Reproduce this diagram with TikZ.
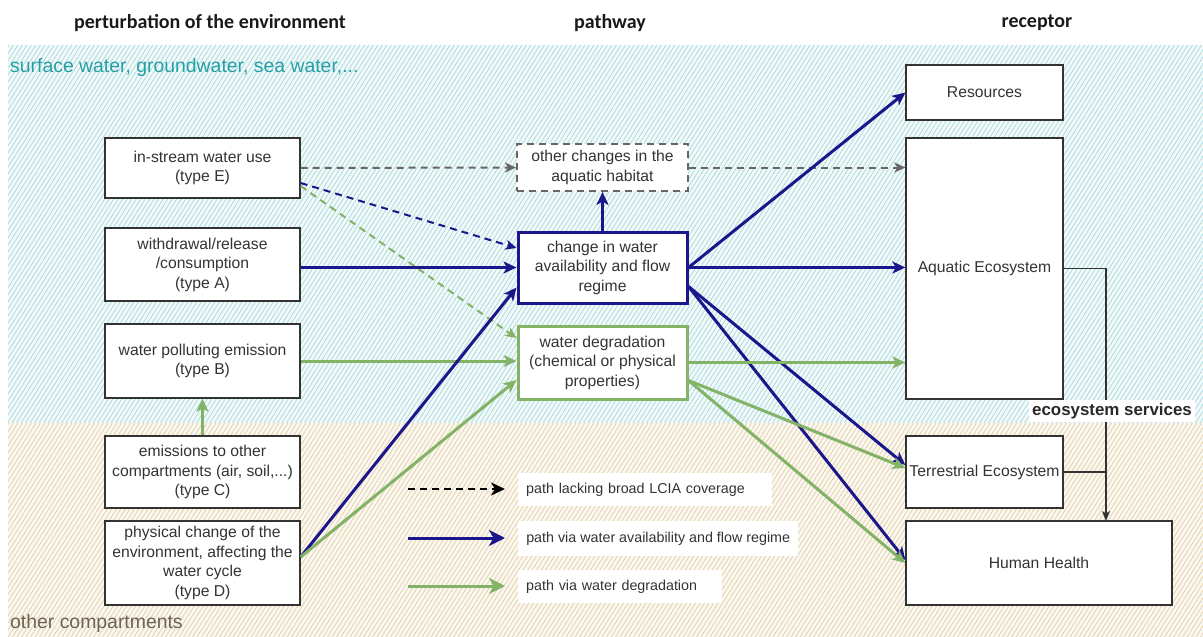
\documentclass[tikz,border=0pt]{standalone}
\usepackage{fontspec}
\setmainfont{Liberation Sans}
\newfontfamily\headfont{Carlito}
\usetikzlibrary{arrows.meta,calc}

\definecolor{navy}{RGB}{28,22,140}
\definecolor{leaf}{RGB}{130,179,102}
\definecolor{ink}{RGB}{51,51,51}
\definecolor{dashgray}{RGB}{102,102,102}
\definecolor{watertext}{RGB}{38,160,168}
\definecolor{soiltext}{RGB}{110,100,85}
\definecolor{hatchC}{RGB}{180,221,225}
\definecolor{hatchCbg}{RGB}{243,250,250}
\definecolor{hatchB}{RGB}{228,212,178}
\definecolor{hatchBbg}{RGB}{251,248,241}

\begin{document}
\begin{tikzpicture}[x=1pt,y=-1pt,
  boxfont/.style={font=\fontsize{15.7}{19.5}\selectfont},
  box/.style={boxfont, draw=ink, line width=1.3pt, fill=white, text=ink,
    align=center, inner sep=0pt},
  bluebox/.style={box, draw=navy, line width=3pt},
  greenbox/.style={box, draw=leaf, line width=3pt},
  graybox/.style={box, draw=dashgray, line width=2pt, dash pattern=on 7pt off 5pt},
  head/.style={font=\headfont\bfseries\fontsize{20}{24}\selectfont, text=black!90, inner sep=0pt},
  zone/.style={font=\fontsize{19.4}{23}\selectfont, inner sep=0pt, anchor=west},
  legtext/.style={font=\fontsize{14.3}{17}\selectfont, text=ink, fill=white,
    align=left, inner xsep=8pt, inner ysep=0pt, anchor=west},
  tipB/.style={-{Stealth[length=13pt,width=12pt,inset=3.5pt]}},
  tipG/.style={-{Stealth[length=11pt,width=10pt,inset=3pt]}},
  blueflow/.style={draw=navy, line width=3pt, tipB},
  greenflow/.style={draw=leaf, line width=3pt, tipB},
  bluedash/.style={draw=navy, line width=2pt, dash pattern=on 7pt off 5pt, tipG},
  greendash/.style={draw=leaf, line width=2pt, dash pattern=on 7pt off 5pt, tipG},
  graydash/.style={draw=dashgray, line width=2pt, dash pattern=on 7pt off 5pt, tipG},
  svc/.style={draw=ink, line width=1.3pt},
]
\useasboundingbox (0,0) rectangle (1203,637);

% hatched zones: water bodies (top) and other compartments (bottom)
\begin{scope}
  \clip (8,45) rectangle (1203,423);
  \fill[hatchCbg] (8,45) rectangle (1203,423);
  \foreach \k in {-240,-235.5,...,1203}
    \draw[hatchC, line width=0.9pt] (\k,423) -- ++(240,-378);
\end{scope}
\begin{scope}
  \clip (8,423) rectangle (1203,637);
  \fill[hatchBbg] (8,423) rectangle (1203,637);
  \foreach \k in {-136,-131.5,...,1203}
    \draw[hatchB, line width=0.9pt] (\k,637) -- ++(136,-214);
\end{scope}

% column headers
\node[head] (h1) at (210,23) {perturbation of the environment};
\node[head] (h2) at (610,23) {pathway};
\node[head] (h3) at (1037,23) {receptor};

% zone labels
\node[zone, text=watertext] (zw) at (10,67) {surface water, groundwater, sea water,...};
\node[zone, text=soiltext] (zs) at (10,623) {other compartments};

% perturbations
\node[box, minimum width=195, minimum height=60] (ins) at (202.5,168) {in-stream water use\\(type E)};
\node[box, minimum width=195, minimum height=73] (wdr) at (202.5,264.5) {withdrawal/release\\/consumption\\(type A)};
\node[box, minimum width=195, minimum height=74] (pol) at (202.5,361) {water polluting emission\\(type B)};
\node[box, minimum width=195, minimum height=72] (emi) at (202.5,472) {emissions to other\\compartments (air, soil,...)\\(type C)};
\node[box, minimum width=195, minimum height=84] (phy) at (202.5,563) {physical change of the\\environment, affecting the\\water cycle\\(type D)};

% pathways
\node[graybox, minimum width=171, minimum height=47] (oth) at (602.5,167.5) {other changes in the\\aquatic habitat};
\node[bluebox, minimum width=169, minimum height=71] (chg) at (602.5,267.5) {change in water\\availability and flow\\regime};
\node[greenbox, minimum width=169, minimum height=73] (deg) at (602.5,362.5) {water degradation\\(chemical or physical\\properties)};

% receptors
\node[box, minimum width=157, minimum height=55] (res) at (984.5,92.5) {Resources};
\node[box, minimum width=157, minimum height=261] (aqu) at (984.5,268.5) {Aquatic Ecosystem};
\node[box, minimum width=157, minimum height=72] (ter) at (984.5,472) {Terrestrial Ecosystem};
\node[box, minimum width=266, minimum height=84] (hh) at (1039,563) {Human Health};

% paths lacking broad coverage
\draw[graydash] (ins.east) -- (oth.west);
\draw[graydash] (oth.east) -- (aqu.west |- oth.east);
\draw[bluedash] ($(ins.east)+(0,15)$) -- ($(chg.west)+(0,-19.5)$);
\draw[greendash] ($(ins.east)+(0,18)$) -- ($(deg.west)+(0,-24.5)$);

% perturbation to pathway
\draw[blueflow] (wdr.east |- chg.west) -- (chg.west);
\draw[greenflow] (pol.east) -- (pol.east -| deg.west);
\draw[greenflow] (emi.north) -- (pol.south);
\draw[blueflow] ($(phy.east)+(0,-6)$) -- ($(chg.west)+(0,20)$);
\draw[greenflow] ($(phy.east)+(0,-6)$) -- ($(deg.west)+(0,17.5)$);
\draw[blueflow] (chg.north) -- (oth.south);

% pathway to receptor
\draw[blueflow] (chg.east) -- (res.west);
\draw[blueflow] (chg.east) -- (aqu.west |- chg.east);
\draw[blueflow] ($(chg.east)+(0,19)$) -- ($(ter.west)+(0,-7)$);
\draw[blueflow] ($(chg.east)+(0,19)$) -- ($(hh.west)+(0,-3)$);
\draw[greenflow] (deg.east) -- (aqu.west |- deg.east);
\draw[greenflow] ($(deg.east)+(0,18)$) -- ($(ter.west)+(0,-4)$);
\draw[greenflow] ($(deg.east)+(0,18)$) -- ($(hh.west)+(0,0)$);

% ecosystem services
\coordinate (hhin) at (1106,521);
\draw[svc, -{Stealth[length=10pt,width=8pt,inset=2.5pt]}] (aqu.east) -| (hhin);
\draw[svc] (ter.east) -- (ter.east -| hhin);
\node[font=\bfseries\fontsize{16.9}{20}\selectfont, text=ink!80!black, fill=white, inner xsep=3pt, inner ysep=3pt] (svcl) at (1112,411) {ecosystem services};

% legend
\coordinate (l1a) at (408,489); \coordinate (l1b) at (505,489);
\coordinate (l2a) at (408,538); \coordinate (l2b) at (505,538);
\coordinate (l3a) at (408,586); \coordinate (l3b) at (505,586);
\draw[draw=black, line width=2pt, dash pattern=on 7pt off 5pt, -{Stealth[length=14pt,width=13pt,inset=4pt]}] (l1a) -- (l1b);
\draw[draw=navy, line width=3pt, -{Stealth[length=16pt,width=16pt,inset=4.5pt]}] (l2a) -- (l2b);
\draw[draw=leaf, line width=3pt, -{Stealth[length=16pt,width=16pt,inset=4.5pt]}] (l3a) -- (l3b);
\node[legtext, text width=238pt, minimum height=33] (g1) at (518,489.5) {path lacking broad LCIA coverage};
\node[legtext, inner xsep=0pt, minimum width=280, minimum height=35] (g2) at (518,538.5) {path via water availability and flow regime};
\node[legtext, text width=188pt, minimum height=33] (g3) at (518,586.5) {path via water degradation};
\end{tikzpicture}
\end{document}
